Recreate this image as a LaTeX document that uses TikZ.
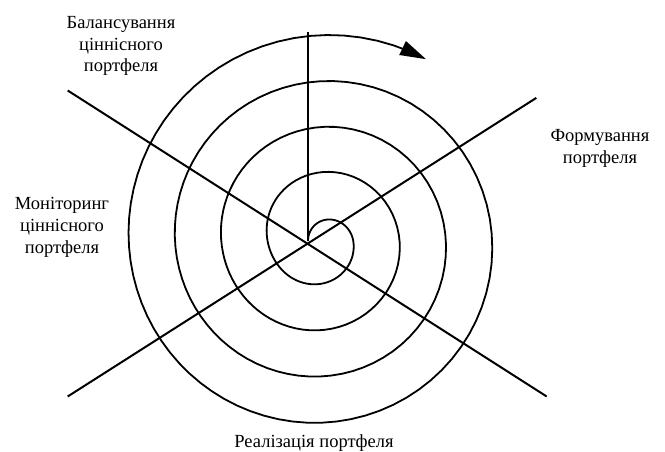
\documentclass[tikz,border=0pt]{standalone}
\usepackage{fontspec}
\setmainfont{Liberation Serif}
\usetikzlibrary{arrows.meta}

\begin{document}
\begin{tikzpicture}[
  x=1pt, y=1pt,
  every node/.style={font=\fontsize{18.5}{21.7}\selectfont},
  phase/.style={align=center, inner sep=0pt},
  axis/.style={line width=2pt},
  spiral/.style={line width=1.8pt, line join=round},
  declare function={sr(\t)=66+0.1286*(\t-360)+14*sin(\t);}
]
\useasboundingbox (-308,-211) rectangle (357,241);

% axes through the centre
\coordinate (centre) at (0,0);
\coordinate (top) at (0,209);
\coordinate (ul) at (-240.3,150.5);
\coordinate (lr) at (238.7,-155.5);
\coordinate (ur) at (228.3,143.1);
\coordinate (ll) at (-240.3,-155.5);

\draw[axis] (ul) -- (lr);
\draw[axis] (ll) -- (ur);
\draw[axis] (centre) -- (top);

% spiral, clockwise and outwards
\draw[spiral, -{Triangle[length=26pt,width=15pt]}]
  plot[domain=0:90, samples=30] ({(sr(\x)-19.7*(1-\x/90)^2)*sin(\x)}, {(sr(\x)-19.7*(1-\x/90)^2)*cos(\x)})
  -- plot[domain=90:1473, samples=300] ({sr(\x)*sin(\x)}, {sr(\x)*cos(\x)});

% phases
\node[phase] (balance) at (-187,195) {Балансування\\ціннісного\\портфеля};
\node[phase] (forming) at (292,92.7) {Формування\\портфеля};
\node[phase] (monitor) at (-246,13.5) {Моніторинг\\ціннісного\\портфеля};
\node[phase] (realise) at (6,-201.8) {Реалізація портфеля};
\end{tikzpicture}
\end{document}
